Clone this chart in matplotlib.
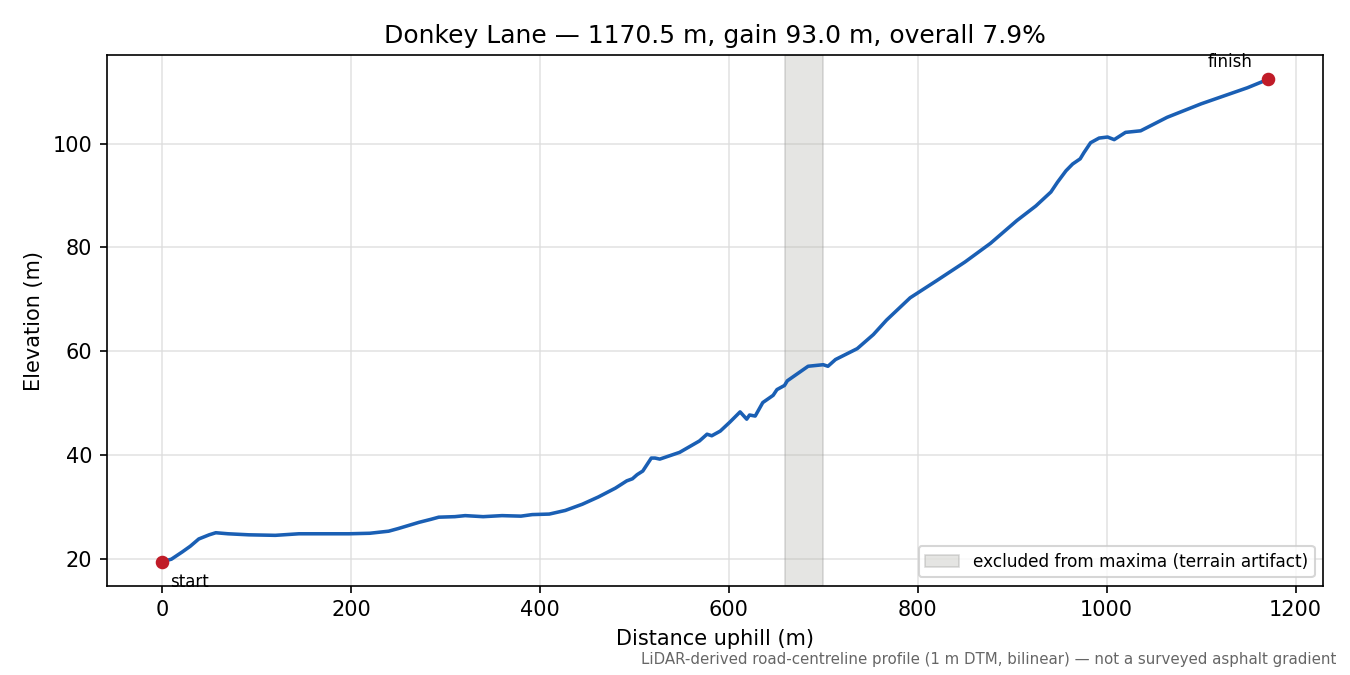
import matplotlib
matplotlib.use("Agg")
import matplotlib.pyplot as plt
import numpy as np

distance = [0, 10, 21.5, 30, 39, 50, 57, 70, 92, 120, 145, 170, 198, 220, 240, 250, 261, 272, 285, 293,
            310, 321, 340, 360, 380, 392, 410, 427, 445, 462, 480, 492, 498, 503, 509, 518, 522, 527, 548, 569, 577, 582,
            591, 601, 612, 619, 622, 628, 636, 647, 651, 659, 662, 684, 700, 705, 713, 736,
            753, 767, 792, 820, 850, 877, 905, 925, 941, 948, 957, 964, 972, 976, 983, 992, 1001,
            1008, 1020, 1036, 1064, 1100, 1149, 1170.5]
elevation = [19.4, 19.9, 21.3, 22.4, 23.8, 24.6, 25.0, 24.8, 24.6, 24.5, 24.8, 24.8, 24.8, 24.9, 25.3, 25.8, 26.4, 27.0, 27.6, 28.0,
             28.1, 28.3, 28.1, 28.3, 28.2, 28.5, 28.6, 29.3, 30.5, 31.9, 33.6, 35.0, 35.4, 36.2, 36.9, 39.4, 39.4, 39.2, 40.5, 42.7, 44.0, 43.7,
             44.6, 46.3, 48.3, 46.9, 47.7, 47.5, 50.1, 51.5, 52.6, 53.4, 54.3, 57.1, 57.4, 57.1, 58.4, 60.5,
             63.2, 66.0, 70.3, 73.6, 77.2, 80.8, 85.2, 88.0, 90.7, 92.6, 94.8, 96.1, 97.1, 98.3, 100.2, 101.1, 101.3,
             100.8, 102.2, 102.5, 105.1, 107.7, 110.8, 112.4]
excluded = (660, 700)
title = "Donkey Lane \u2014 1170.5 m, gain 93.0 m, overall 7.9%"
footnote = "LiDAR-derived road-centreline profile (1 m DTM, bilinear) \u2014 not a surveyed asphalt gradient"

fig, ax = plt.subplots(figsize=(9, 4.5), dpi=150)
fig.subplots_adjust(left=0.079, right=0.98, top=0.918, bottom=0.132)

ax.axvspan(excluded[0], excluded[1], facecolor="#b0b0a8", alpha=0.32, edgecolor="#909090",
           linewidth=0.8, label="excluded from maxima (terrain artifact)")
ax.plot(distance, elevation, color="#1a5fb4", linewidth=1.7)
ax.plot([distance[0], distance[-1]], [elevation[0], elevation[-1]], "o", color="#c01c28",
        markersize=5.5, zorder=5)
ax.annotate("start", (distance[0], elevation[0]), xytext=(4, -9.5), textcoords="offset points",
            fontsize=8, va="center", ha="left")
ax.annotate("finish", (distance[-1], elevation[-1]), xytext=(-7.5, 8.5), textcoords="offset points",
            fontsize=8, va="center", ha="right")

ax.grid(True, color="#dddddd", linewidth=0.8, alpha=0.8)
ax.set_axisbelow(True)
ax.set_xlabel("Distance uphill (m)")
ax.set_ylabel("Elevation (m)")
ax.set_title(title, fontsize=12)
ax.legend(loc="lower right", fontsize=8.1)
fig.text(0.99, 0.012, footnote, ha="right", va="bottom", fontsize=7.2, color="#666666")

fig.savefig("out.png", dpi=150)
